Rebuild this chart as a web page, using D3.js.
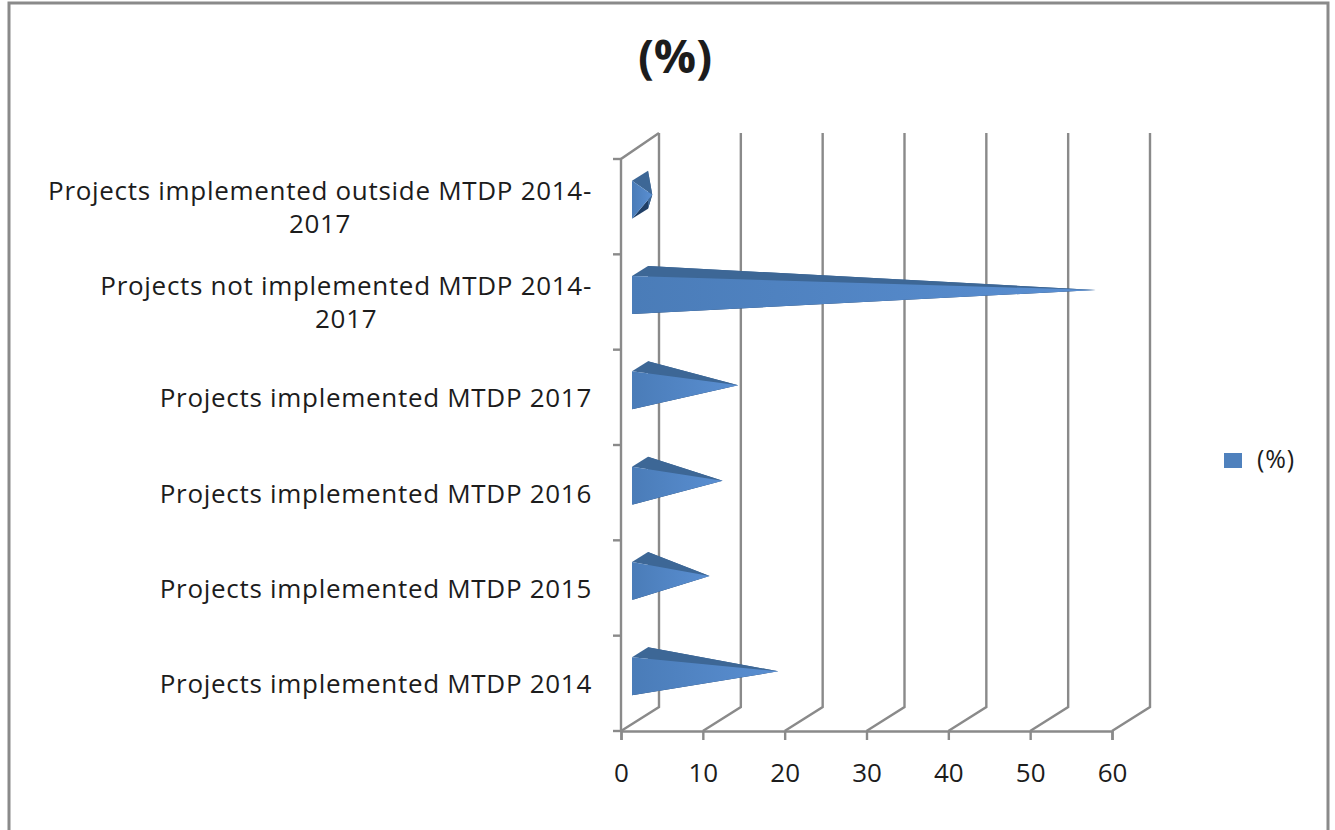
<!DOCTYPE html>
<html>
<head>
<meta charset="utf-8">
<script src="https://cdn.jsdelivr.net/npm/d3@7"></script>
<style>
  html, body { margin: 0; padding: 0; background: #fff; }
  svg { display: block; }
  text { font-family: "Open Sans", sans-serif; fill: #1c1c1c; }
</style>
</head>
<body>
<svg id="chart" width="1335" height="830"></svg>
<script>
// Share of projects by implementation status, listed bottom to top
const categories = [
  "Projects implemented MTDP 2014",
  "Projects implemented MTDP 2015",
  "Projects implemented MTDP 2016",
  "Projects implemented MTDP 2017",
  "Projects not implemented MTDP 2014-2017",
  "Projects implemented outside MTDP 2014-2017"
];
const labelLines = [
  ["Projects implemented MTDP 2014"],
  ["Projects implemented MTDP 2015"],
  ["Projects implemented MTDP 2016"],
  ["Projects implemented MTDP 2017"],
  ["Projects not implemented MTDP 2014-", "2017"],
  ["Projects implemented outside MTDP 2014-", "2017"]
];
const percentages = [16.9, 8.5, 10.1, 12.0, 55.7, 1.5];
const xTicks = [0, 10, 20, 30, 40, 50, 60];
const seriesName = "(%)";
const chartTitle = "(%)";

const svg = d3.select("#chart");
const axisColor = "#8a8a8a";
const topFill = "#3d6796", sideFill = "#203f66", legendFill = "#4f81bd";

// Front faces brighten slightly toward the apex
const grad = svg.append("defs").append("linearGradient").attr("id", "frontFace");
grad.append("stop").attr("offset", "0%").attr("stop-color", "#4a7cb8");
grad.append("stop").attr("offset", "100%").attr("stop-color", "#5a8fd2");

// Oblique projection: the back wall sits up and to the right of the front plane
const depth = { x: 38, y: -24 };
const plot = { left: 621, right: 1112, top: 159, bottom: 731, wallTop: 133 };

const x = d3.scaleLinear().domain([0, 60]).range([plot.left, plot.right]);
const y = d3.scaleBand().domain(categories).range([plot.bottom, plot.top]);

// Outer chart frame, open at the bottom edge
svg.append("path")
  .attr("d", "M9,830V3H1328V830")
  .attr("fill", "none").attr("stroke", axisColor).attr("stroke-width", 3);

// Back wall gridlines with their floor segments
svg.append("g").selectAll("path").data(xTicks).join("path")
  .attr("d", d => d3.line()([
    [x(d), plot.bottom],
    [x(d) + depth.x, plot.bottom + depth.y],
    [x(d) + depth.x, plot.wallTop]
  ]))
  .attr("fill", "none").attr("stroke", axisColor).attr("stroke-width", 2.4);

// Side wall: front vertical axis and top edge
svg.append("path")
  .attr("d", d3.line()([
    [plot.left, plot.bottom],
    [plot.left, plot.top],
    [plot.left + depth.x, plot.wallTop]
  ]))
  .attr("fill", "none").attr("stroke", axisColor).attr("stroke-width", 2.4);

// Horizontal value axis
const xAxis = svg.append("g")
  .attr("transform", `translate(0,${plot.bottom})`)
  .call(d3.axisBottom(x).tickValues(xTicks).tickSizeOuter(0).tickSize(9).tickPadding(24));
xAxis.selectAll("path,line").attr("stroke", axisColor).attr("stroke-width", 2.4);
xAxis.selectAll("text").attr("font-size", 26).attr("font-family", "'Open Sans', sans-serif").attr("fill", "#1c1c1c");

// Category ticks fall on the band edges
const edges = categories.map(c => y(c) + y.bandwidth()).concat([plot.top]);
svg.append("g").selectAll("line").data(edges).join("line")
  .attr("x1", plot.left - 8).attr("x2", plot.left)
  .attr("y1", d => d).attr("y2", d => d)
  .attr("stroke", axisColor).attr("stroke-width", 2.4);

// Category labels, right aligned; a wrapped second line is centred beneath
const labelRight = 592;
const labelGroups = svg.append("g").selectAll("g").data(categories).join("g");
labelGroups.each(function (c, i) {
  const lines = labelLines[i];
  const g = d3.select(this);
  const cy = y(c) + y.bandwidth() / 2;
  const addLine = (text, px, py, anchor) => g.append("text")
    .attr("x", px).attr("y", py).attr("text-anchor", anchor)
    .attr("font-size", 26).attr("letter-spacing", 0.7).text(text);
  if (lines.length === 1) {
    addLine(lines[0], labelRight, cy + 10, "end");
  } else {
    const first = addLine(lines[0], labelRight, cy - 7, "end");
    const w = first.node().getComputedTextLength();
    addLine(lines[1], labelRight - w / 2, cy + 26, "middle");
  }
});

// Pyramid bars: square base on the value origin, apex at the value
const baseInset = 11, baseHeight = 38, baseDepth = { x: 16, y: -10 };
const bars = svg.append("g").selectAll("g").data(categories).join("g");
bars.each(function (c, i) {
  const g = d3.select(this);
  const x0 = plot.left + baseInset;
  const cy = y(c) + y.bandwidth() / 2 - 7;
  const ft = [x0, cy - baseHeight / 2], fb = [x0, cy + baseHeight / 2];
  const bt = [x0 + baseDepth.x, ft[1] + baseDepth.y], bb = [x0 + baseDepth.x, fb[1] + baseDepth.y];
  const tip = [x(percentages[i]) + baseInset + baseDepth.x / 2, cy + baseDepth.y / 2];
  const poly = (pts, fill) => g.append("path").attr("d", d3.line()(pts) + "Z").attr("fill", fill);
  poly([fb, bb, tip], sideFill);
  poly([bt, bb, tip], topFill);
  poly([ft, bt, tip], topFill);
  poly([ft, fb, tip], "url(#frontFace)");
});

// Title
svg.append("text").attr("x", 675).attr("y", 73).attr("text-anchor", "middle")
  .attr("font-size", 47).attr("font-weight", 700).text(chartTitle);

// Legend
svg.append("rect").attr("x", 1224).attr("y", 453).attr("width", 18).attr("height", 15).attr("fill", legendFill);
svg.append("text").attr("x", 1257).attr("y", 468).attr("font-size", 25).attr("letter-spacing", 0.8).text(seriesName);
</script>
</body>
</html>
